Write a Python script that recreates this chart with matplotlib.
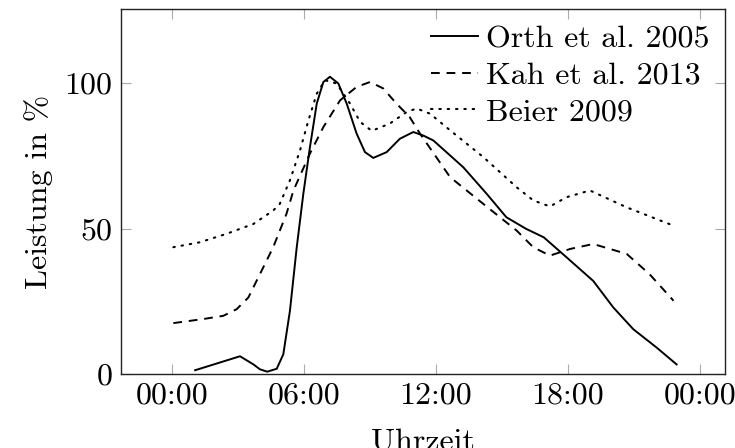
import matplotlib
matplotlib.use("Agg")
import matplotlib.pyplot as plt

# hours of day, power in percent
orth_x = [1.05, 3.09, 3.7, 4.0, 4.33, 4.76, 5.06, 5.36, 5.67, 5.97, 6.27, 6.58, 6.88, 7.18,
          7.56, 7.94, 8.39, 8.77, 9.15, 9.76, 10.36, 10.97, 11.42, 11.88, 13.24, 14.3, 15.2,
          16.1, 16.9, 17.94, 19.15, 20.06, 20.97, 22.03, 22.94]
orth_y = [1.3, 6.1, 3.3, 1.6, 0.8, 1.8, 6.8, 21.7, 43.6, 62.0, 78.0, 93.0, 100.4, 102.2,
          99.9, 93.0, 82.7, 76.3, 74.3, 76.3, 80.9, 83.2, 82.0, 80.3, 71.1, 62.0, 53.9,
          49.9, 47.0, 40.1, 32.0, 22.9, 15.4, 9.1, 3.3]

kah_x = [0.06, 1.42, 2.33, 2.94, 3.47, 4.0, 4.6, 5.2, 5.52, 6.27, 6.88, 7.64, 8.39, 9.0,
         9.6, 10.2, 10.8, 11.27, 12.64, 14.15, 15.67, 16.42, 17.18, 18.1, 19.15, 20.67,
         21.7, 22.8]
kah_y = [17.5, 18.9, 20.0, 22.3, 26.3, 34.4, 43.6, 55.0, 63.1, 75.8, 84.9, 94.1, 98.7, 100.4,
         98.2, 93.0, 88.4, 82.7, 67.7, 58.5, 49.3, 43.6, 40.7, 43.0, 44.7, 41.3,
         34.4, 25.2]

beier_x = [0.06, 1.27, 2.48, 3.7, 4.6, 4.9, 5.36, 5.82, 6.2, 6.58, 6.95, 7.48, 8.09, 8.55,
           9.08, 9.9, 10.67, 11.12, 11.73, 12.64, 14.15, 15.67, 16.42, 17.18, 17.94, 19.0,
           20.67, 22.8]
beier_y = [43.6, 45.3, 48.2, 51.6, 56.2, 58.5, 66.6, 76.9, 87.2, 96.4, 101.0, 99.9, 93.0, 86.7,
           83.6, 86.1, 90.1, 91.3, 89.5, 83.8, 74.6, 64.2, 59.7, 57.6, 60.8, 63.1,
           57.3, 51.0]

xticks = [0, 6, 12, 18, 24]
xticklabels = ["00:00", "06:00", "12:00", "18:00", "00:00"]
yticks = [0, 50, 100]

plt.rcParams["font.family"] = "cmr10"
plt.rcParams["axes.formatter.use_mathtext"] = True
plt.rcParams["font.size"] = 23

fig = plt.figure(figsize=(7.35, 4.48), dpi=100)
ax = fig.add_axes([121 / 735, 74 / 448, 604 / 735, 365 / 448])

ax.plot(orth_x, orth_y, color="black", linewidth=1.4, label="Orth et al. 2005")
ax.plot(kah_x, kah_y, color="black", linewidth=1.4, linestyle=(0, (4.5, 3.5)),
        label="Kah et al. 2013")
ax.plot(beier_x, beier_y, color="black", linewidth=1.5, linestyle=(0, (0.7, 3.3)),
        dash_capstyle="round", label="Beier 2009")

ax.set_xlim(-2.32, 25.14)
ax.set_ylim(0, 125.5)
ax.set_xticks(xticks)
ax.set_xticklabels(xticklabels)
ax.set_yticks(yticks)
ax.tick_params(direction="in", length=7, width=0.8, color="#aaaaaa",
               top=True, right=True, pad=6)
for s in ax.spines.values():
    s.set_linewidth(1.0)
    s.set_color("#222222")

ax.set_xlabel("Uhrzeit", labelpad=13)
ax.set_ylabel("Leistung in %", labelpad=8)

ax.legend(loc="upper right", frameon=False, handlelength=1.45, handletextpad=0.25,
          labelspacing=0.26, borderaxespad=0.2, borderpad=0.3)

fig.savefig("out.png", dpi=100)
